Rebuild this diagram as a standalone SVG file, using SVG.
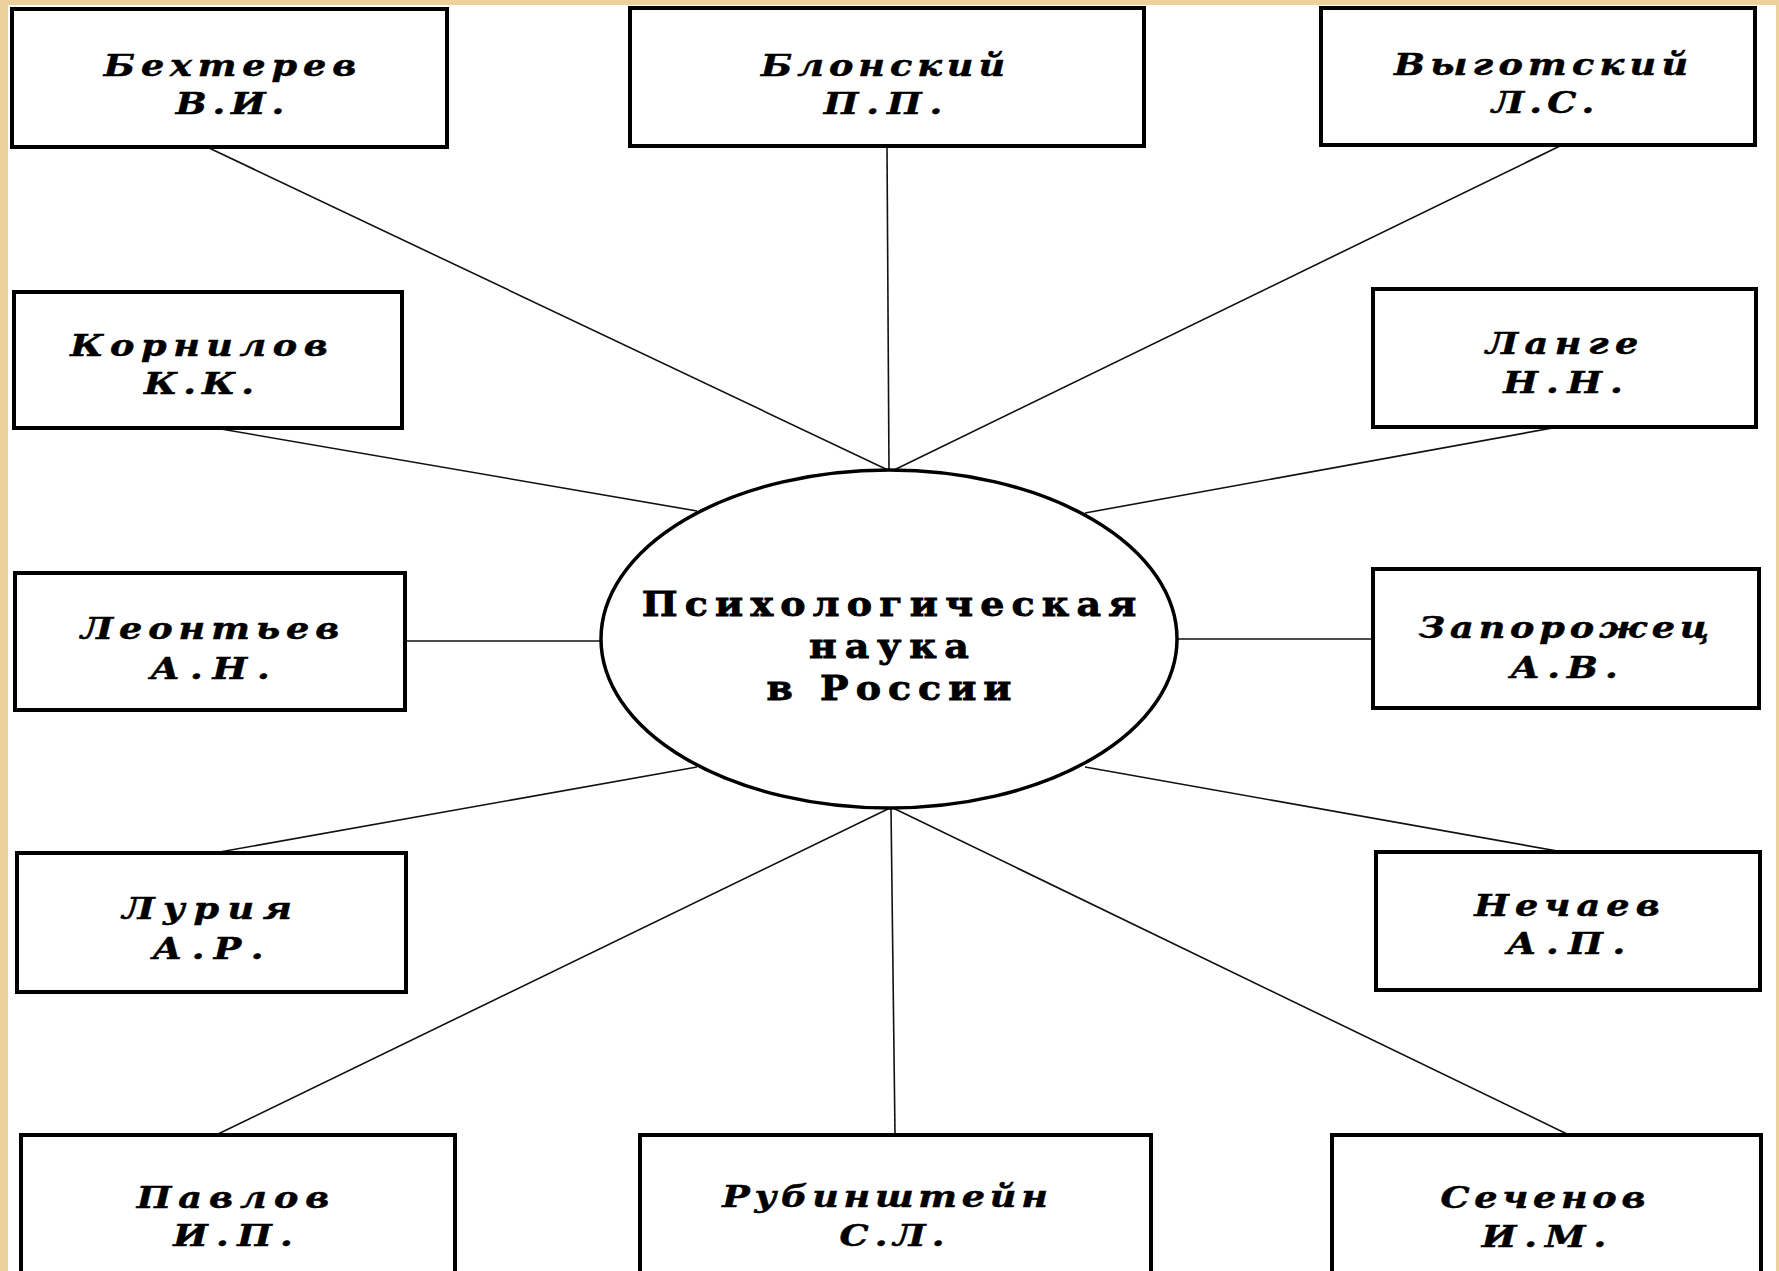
<svg xmlns="http://www.w3.org/2000/svg" width="1779" height="1271" viewBox="0 0 1779 1271">
<style>
.box{fill:#fff;stroke:#000;stroke-width:4}
.hub{fill:#fff;stroke:#000;stroke-width:3.5}
.lnk{stroke:#111;stroke-width:1.6;fill:none}
.nm{font-family:"DejaVu Serif","Liberation Serif",serif;font-weight:bold;font-style:italic;font-size:30px;fill:#000;stroke:#000;stroke-width:0.5;text-anchor:middle}
.hubt{font-family:"DejaVu Serif","Liberation Serif",serif;font-weight:bold;font-size:33px;fill:#000;stroke:#000;stroke-width:0.8;text-anchor:middle}
</style>
<rect x="0" y="0" width="1779" height="1271" fill="#EDD19C"/>
<rect x="8" y="5" width="1768" height="1266" fill="#fff"/>
<g id="connectors">
<line class="lnk" x1="207" y1="147" x2="890" y2="471"/>
<line class="lnk" x1="887" y1="146" x2="889" y2="471"/>
<line class="lnk" x1="1562" y1="145" x2="892" y2="471"/>
<line class="lnk" x1="215" y1="428" x2="697" y2="511"/>
<line class="lnk" x1="1558" y1="427" x2="1085" y2="513"/>
<line class="lnk" x1="405" y1="641" x2="602" y2="641"/>
<line class="lnk" x1="1176" y1="639" x2="1373" y2="639"/>
<line class="lnk" x1="214" y1="853" x2="697" y2="767"/>
<line class="lnk" x1="1563" y1="852" x2="1085" y2="767"/>
<line class="lnk" x1="216" y1="1135" x2="890" y2="808"/>
<line class="lnk" x1="895" y1="1135" x2="891" y2="808"/>
<line class="lnk" x1="1569" y1="1135" x2="893" y2="808"/>
</g>
<g id="hub">
<ellipse class="hub" cx="889" cy="639" rx="288" ry="169"/>
<text class="hubt" transform="translate(889 616) scale(1.15 1)" textLength="430" lengthAdjust="spacing">Психологическая</text>
<text class="hubt" transform="translate(889 658) scale(1.15 1)" textLength="139" lengthAdjust="spacing">наука</text>
<text class="hubt" transform="translate(889 700) scale(1.15 1)" textLength="213" lengthAdjust="spacing">в России</text>
</g>
<g id="bekhterev">
<rect class="box" x="12" y="9" width="435" height="138"/>
<text class="nm" transform="translate(230 76) scale(1.22 1)" textLength="207" lengthAdjust="spacing">Бехтерев</text>
<text class="nm" transform="translate(230 114) scale(1.22 1)" textLength="89" lengthAdjust="spacing">В.И.</text>
</g>
<g id="blonsky">
<rect class="box" x="630" y="8" width="514" height="138"/>
<text class="nm" transform="translate(883 76) scale(1.22 1)" textLength="200" lengthAdjust="spacing">Блонский</text>
<text class="nm" transform="translate(883 114) scale(1.22 1)" textLength="97" lengthAdjust="spacing">П.П.</text>
</g>
<g id="vygotsky">
<rect class="box" x="1321" y="8" width="434" height="137"/>
<text class="nm" transform="translate(1541 75) scale(1.22 1)" textLength="241" lengthAdjust="spacing">Выготский</text>
<text class="nm" transform="translate(1543 113) scale(1.22 1)" textLength="84" lengthAdjust="spacing">Л.С.</text>
</g>
<g id="kornilov">
<rect class="box" x="14" y="292" width="388" height="136"/>
<text class="nm" transform="translate(199 356) scale(1.22 1)" textLength="211" lengthAdjust="spacing">Корнилов</text>
<text class="nm" transform="translate(199 394) scale(1.22 1)" textLength="90" lengthAdjust="spacing">К.К.</text>
</g>
<g id="lange">
<rect class="box" x="1373" y="289" width="383" height="138"/>
<text class="nm" transform="translate(1562 354) scale(1.22 1)" textLength="125" lengthAdjust="spacing">Ланге</text>
<text class="nm" transform="translate(1563 393) scale(1.22 1)" textLength="98" lengthAdjust="spacing">Н.Н.</text>
</g>
<g id="leontiev">
<rect class="box" x="15" y="573" width="390" height="137"/>
<text class="nm" transform="translate(210 639) scale(1.22 1)" textLength="212" lengthAdjust="spacing">Леонтьев</text>
<text class="nm" transform="translate(210 679) scale(1.22 1)" textLength="98" lengthAdjust="spacing">А.Н.</text>
</g>
<g id="zaporozhets">
<rect class="box" x="1373" y="569" width="386" height="139"/>
<text class="nm" transform="translate(1564 638) scale(1.22 1)" textLength="238" lengthAdjust="spacing">Запорожец</text>
<text class="nm" transform="translate(1564 678) scale(1.22 1)" textLength="88" lengthAdjust="spacing">А.В.</text>
</g>
<g id="luria">
<rect class="box" x="17" y="853" width="389" height="139"/>
<text class="nm" transform="translate(207 919) scale(1.22 1)" textLength="139" lengthAdjust="spacing">Лурия</text>
<text class="nm" transform="translate(208 959) scale(1.22 1)" textLength="91" lengthAdjust="spacing">А.Р.</text>
</g>
<g id="nechaev">
<rect class="box" x="1376" y="852" width="384" height="138"/>
<text class="nm" transform="translate(1567 916) scale(1.22 1)" textLength="152" lengthAdjust="spacing">Нечаев</text>
<text class="nm" transform="translate(1566 954) scale(1.22 1)" textLength="97" lengthAdjust="spacing">А.П.</text>
</g>
<g id="pavlov">
<rect class="box" x="21" y="1135" width="434" height="160"/>
<text class="nm" transform="translate(233 1208) scale(1.22 1)" textLength="158" lengthAdjust="spacing">Павлов</text>
<text class="nm" transform="translate(233 1246) scale(1.22 1)" textLength="98" lengthAdjust="spacing">И.П.</text>
</g>
<g id="rubinstein">
<rect class="box" x="640" y="1135" width="511" height="160"/>
<text class="nm" transform="translate(885 1207) scale(1.22 1)" textLength="267" lengthAdjust="spacing">Рубинштейн</text>
<text class="nm" transform="translate(892 1246) scale(1.22 1)" textLength="86" lengthAdjust="spacing">С.Л.</text>
</g>
<g id="sechenov">
<rect class="box" x="1332" y="1135" width="429" height="160"/>
<text class="nm" transform="translate(1543 1208) scale(1.22 1)" textLength="168" lengthAdjust="spacing">Сеченов</text>
<text class="nm" transform="translate(1544 1247) scale(1.22 1)" textLength="102" lengthAdjust="spacing">И.М.</text>
</g>
</svg>
